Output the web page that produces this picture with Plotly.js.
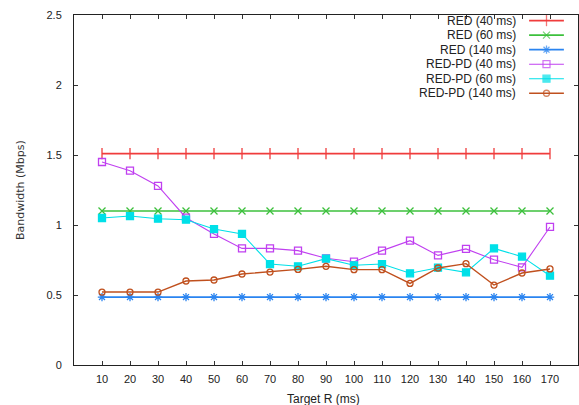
<!DOCTYPE html>
<html>
<head>
<meta charset="utf-8">
<script src="https://cdn.plot.ly/plotly-3.0.1.min.js"></script>
<style>html,body{margin:0;padding:0;background:#fff;}#chart{width:579px;height:405px;}</style>
</head>
<body>
<div id="chart"></div>
<script>
const targetR = [10,20,30,40,50,60,70,80,90,100,110,120,130,140,150,160,170];
const red40 = [1.51,1.51,1.51,1.51,1.51,1.51,1.51,1.51,1.51,1.51,1.51,1.51,1.51,1.51,1.51,1.51,1.51];
const red60 = [1.10,1.10,1.10,1.10,1.10,1.10,1.10,1.10,1.10,1.10,1.10,1.10,1.10,1.10,1.10,1.10,1.10];
const red140 = [0.485,0.485,0.485,0.485,0.485,0.485,0.485,0.485,0.485,0.485,0.485,0.485,0.485,0.485,0.485,0.485,0.485];
const redpd40 = [1.45,1.388,1.279,1.052,0.936,0.833,0.833,0.817,0.762,0.738,0.817,0.888,0.783,0.829,0.752,0.698,0.986];
const redpd60 = [1.05,1.064,1.045,1.038,0.971,0.936,0.721,0.705,0.76,0.712,0.721,0.655,0.695,0.662,0.833,0.774,0.638];
const redpd140 = [0.521,0.521,0.521,0.60,0.607,0.65,0.664,0.683,0.705,0.681,0.681,0.583,0.693,0.724,0.571,0.657,0.686];
const seriesNames = ["RED (40 ms)","RED (60 ms)","RED (140 ms)","RED-PD (40 ms)","RED-PD (60 ms)","RED-PD (140 ms)"];
const xTicks = [10,20,30,40,50,60,70,80,90,100,110,120,130,140,150,160,170];
const yTicks = [0,0.5,1,1.5,2,2.5];
const yTickText = ["0","0.5","1","1.5","2","2.5"];

const styles = [
  {color:'#f03c3c', symbol:'line-ns-open', size:8, width:1.6},
  {color:'#3cc03c', symbol:'x-thin-open', size:7, width:1.6},
  {color:'#2a84f0', symbol:'asterisk-open', size:7, width:1.6},
  {color:'#c040f0', symbol:'square-open', size:7, width:1.1},
  {color:'#00e0e8', symbol:'square', size:7, width:1.1},
  {color:'#c0501e', symbol:'circle-open', size:6, width:1.4}
];
const allData = [red40, red60, red140, redpd40, redpd60, redpd140];
const FONT = 'Liberation Sans, Arial, sans-serif';

const traces = allData.map((ys,i)=>({
  x: targetR, y: ys, name: seriesNames[i], type:'scatter', mode:'lines+markers',
  line:{color:styles[i].color, width:styles[i].width},
  marker:{symbol:styles[i].symbol, size:styles[i].size, color:styles[i].color,
          line:{color:styles[i].color, width:1.3}},
  showlegend:false, cliponaxis:false
}));

// custom gnuplot-style legend (text right-aligned, key sample on right)
const legTop = 0.984, legStep = 0.0415, legTextX = 0.881, legX0 = 0.903, legX1 = 0.972, legXm = 0.9375;
const legY = seriesNames.map((_,i)=>legTop - i*legStep);
const annotations = seriesNames.map((n,i)=>({
  xref:'paper', yref:'paper', x:legTextX, y:legY[i], xanchor:'right', yanchor:'middle',
  text:n, showarrow:false, font:{family:FONT, size:12, color:'#222'}
}));
annotations.push({xref:'paper', yref:'paper', x:0.495, y:-0.097, xanchor:'center', yanchor:'middle',
  text:'Target R (ms)', showarrow:false, font:{family:FONT, size:12, color:'#222'}});
annotations.push({xref:'paper', yref:'paper', x:-0.107, y:0.5, xanchor:'center', yanchor:'middle',
  textangle:-90, text:'Bandwidth (Mbps)', showarrow:false, font:{family:'DejaVu Sans, sans-serif', size:11, color:'#333'}});
const shapes = seriesNames.map((n,i)=>({
  type:'line', xref:'paper', yref:'paper', x0:legX0, x1:legX1, y0:legY[i], y1:legY[i],
  line:{color:styles[i].color, width:styles[i].width}
}));
traces.push({
  x: legY.map(()=>legXm), y: legY, xaxis:'x2', yaxis:'y2', type:'scatter', mode:'markers',
  marker:{symbol:styles.map(s=>s.symbol), size:styles.map(s=>s.size), color:styles.map(s=>s.color),
          line:{color:styles.map(s=>s.color), width:1.3}},
  showlegend:false, hoverinfo:'skip', cliponaxis:false
});

const layout = {
  width:579, height:405,
  margin:{l:74, r:1, t:15, b:40},
  paper_bgcolor:'#fff', plot_bgcolor:'#fff',
  font:{family:FONT, size:11, color:'#222'},
  showlegend:false,
  xaxis:{range:[0,180], tickvals:xTicks, ticks:'inside', ticklen:4, tickcolor:'#333',
    showline:true, linecolor:'#222', linewidth:1, mirror:'ticks', showgrid:false, zeroline:false,
    tickfont:{size:11, color:'#222'}, ticklabelstandoff:4, fixedrange:true},
  yaxis:{range:[0,2.5], tickvals:yTicks, ticktext:yTickText, ticks:'inside', ticklen:4, tickcolor:'#333',
    showline:true, linecolor:'#222', linewidth:1, mirror:'ticks', showgrid:false, zeroline:false,
    tickfont:{size:11, color:'#222'}, ticklabelstandoff:9, fixedrange:true},
  xaxis2:{range:[0,1], overlaying:'x', visible:false, fixedrange:true},
  yaxis2:{range:[0,1], overlaying:'y', visible:false, fixedrange:true},
  annotations:annotations, shapes:shapes
};
Plotly.newPlot('chart', traces, layout, {staticPlot:true, displayModeBar:false});
</script>
</body>
</html>
